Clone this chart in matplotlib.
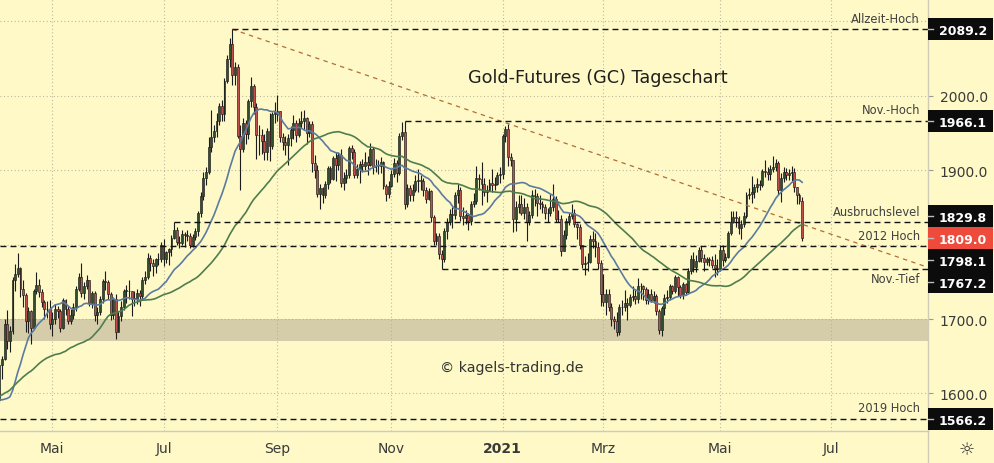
import numpy as np
import pandas as pd
import matplotlib
matplotlib.use('Agg')
import matplotlib.pyplot as plt
from matplotlib.transforms import blended_transform_factory
from matplotlib.patches import Rectangle

# Gold-Futures (GC) daily candles, 1 Apr 2020 - 16 Jun 2021
HOLIDAYS = ['2020-04-10', '2020-05-25', '2020-07-03', '2020-09-07', '2020-11-26',
            '2020-12-25', '2021-01-01', '2021-01-18', '2021-02-15', '2021-04-02',
            '2021-05-31', '2021-07-05']

# closes before the visible window, only needed to start the moving averages
warmup_closes = [1558, 1557, 1565, 1572, 1582, 1569, 1567, 1577, 1587,
                 1582, 1556, 1557, 1569, 1574, 1582, 1570, 1570, 1578, 1586, 1604, 1612, 1623, 1649, 1676,
                 1650, 1643, 1643, 1566,
                 1594, 1644, 1645, 1672, 1672, 1675, 1650, 1642, 1590, 1516, 1511, 1525, 1477, 1478, 1484,
                 1567, 1660, 1634, 1651, 1654, 1643, 1596]

closes = [
    1591, 1638, 1646, 1694, 1670, 1684, 1753, 1761, 1769, 1741, 1732, 1698, 1711, 1688, 1738, 1746, 1736, 1723, 1713, 1713, 1694,  # Apr 20
    1700, 1714, 1711, 1688, 1726, 1713, 1698, 1705, 1716, 1740, 1756, 1735, 1745, 1752, 1721, 1735, 1705, 1710, 1727, 1751,  # May
    1750, 1734, 1705, 1727, 1683, 1704, 1716, 1738, 1738, 1737, 1727, 1727, 1735, 1731, 1753, 1756, 1782, 1775, 1771, 1780, 1781, 1800,  # Jun
    1780, 1790, 1794, 1809, 1820, 1803, 1802, 1814, 1813, 1812, 1800, 1810, 1818, 1842, 1865, 1890, 1897, 1931, 1945, 1953, 1966, 1986,  # Jul
    1976, 2020, 2049, 2069, 2028, 2039, 1946, 1928, 1963, 1949, 1993, 2013, 1985, 1947, 1947, 1939, 1924, 1953, 1932, 1975, 1978,  # Aug
    1979, 1944, 1938, 1934, 1943, 1954, 1964, 1947, 1964, 1966, 1970, 1950, 1962, 1910, 1900, 1868, 1876, 1866, 1882, 1903, 1888,  # Sep
    1916, 1907, 1920, 1883, 1889, 1894, 1930, 1925, 1894, 1901, 1908, 1906, 1911, 1907, 1929, 1904, 1905, 1905, 1911, 1879, 1868, 1879,  # Oct
    1895, 1910, 1896, 1946, 1951, 1854, 1876, 1866, 1873, 1886, 1887, 1885, 1873, 1861, 1872, 1837, 1805, 1811, 1788, 1780,  # Nov
    1818, 1830, 1841, 1840, 1866, 1874, 1839, 1836, 1840, 1832, 1855, 1858, 1890, 1888, 1882, 1871, 1874, 1883, 1880, 1882, 1893, 1895,  # Dec
    1946, 1955, 1918, 1913, 1835, 1850, 1855, 1843, 1851, 1830, 1840, 1866, 1865, 1856, 1855, 1850, 1842, 1843, 1850,  # Jan 21
    1861, 1834, 1835, 1792, 1813, 1832, 1838, 1842, 1827, 1823, 1799, 1774, 1775, 1777, 1808, 1805, 1797, 1775, 1734,  # Feb
    1723, 1733, 1716, 1700, 1698, 1683, 1716, 1716, 1722, 1719, 1730, 1731, 1727, 1745, 1744, 1740, 1725, 1734, 1725, 1731, 1711, 1685, 1715,  # Mar
    1728, 1729, 1744, 1738, 1756, 1743, 1732, 1747, 1736, 1764, 1780, 1770, 1778, 1793, 1782, 1777, 1780, 1779, 1773, 1768, 1767,  # Apr
    1793, 1779, 1784, 1815, 1831, 1837, 1836, 1822, 1827, 1838, 1867, 1868, 1870, 1877, 1881, 1880, 1899, 1897, 1895, 1902,  # May
    1904, 1909, 1873, 1890, 1898, 1894, 1896, 1898, 1877, 1866, 1858, 1809,  # Jun
]

highs = [
    1611, 1642, 1650, 1700, 1712, 1690, 1756, 1774, 1789, 1770, 1752, 1735, 1716, 1712, 1740, 1763, 1754, 1740, 1726, 1724, 1725,
    1710, 1720, 1718, 1713, 1728, 1727, 1717, 1713, 1722, 1745, 1762, 1775, 1750, 1759, 1753, 1738, 1738, 1716, 1731, 1754,
    1764, 1753, 1736, 1730, 1733, 1711, 1724, 1741, 1746, 1752, 1738, 1737, 1740, 1739, 1756, 1765, 1789, 1786, 1780, 1782, 1789, 1804,
    1807, 1792, 1796, 1813, 1830, 1823, 1812, 1820, 1817, 1819, 1815, 1814, 1822, 1845, 1870, 1898, 1904, 1944, 1981, 1960, 1977, 1990,
    1994, 2024, 2055, 2078, 2089.2, 2045, 2042, 1961, 1970, 1967, 1996, 2025, 2016, 1990, 1960, 1955, 1948, 1956, 1977, 1978, 1992,
    2001, 1980, 1950, 1946, 1949, 1959, 1974, 1967, 1970, 1980, 1981, 1972, 1966, 1966, 1920, 1907, 1882, 1878, 1886, 1905, 1906,
    1919, 1925, 1924, 1928, 1898, 1901, 1933, 1934, 1929, 1908, 1912, 1915, 1924, 1919, 1937, 1931, 1915, 1913, 1917, 1912, 1882, 1886,
    1900, 1916, 1913, 1950, 1965, 1966.1, 1881, 1880, 1881, 1893, 1902, 1893, 1889, 1878, 1876, 1874, 1840, 1815, 1815, 1793,
    1822, 1836, 1848, 1850, 1871, 1881, 1877, 1850, 1846, 1843, 1858, 1869, 1906, 1895, 1911, 1889, 1880, 1888, 1902, 1891, 1898, 1904,
    1948, 1959, 1962.5, 1923, 1914, 1858, 1867, 1866, 1862, 1856, 1845, 1874, 1875, 1869, 1867, 1859, 1855, 1849, 1868,
    1881, 1865, 1846, 1840, 1819, 1836, 1843, 1855, 1848, 1829, 1828, 1800, 1785, 1789, 1813, 1818, 1815, 1803, 1779,
    1760, 1741, 1740, 1722, 1704, 1709, 1720, 1725, 1739, 1728, 1734, 1745, 1740, 1755, 1749, 1746, 1743, 1740, 1740, 1737, 1733, 1713, 1718,
    1733, 1739, 1747, 1746, 1759, 1758, 1746, 1750, 1749, 1769, 1786, 1790, 1786, 1797, 1798, 1787, 1784, 1784, 1785, 1788, 1780,
    1799, 1799, 1789, 1818, 1845, 1845, 1845, 1839, 1833, 1844, 1870, 1876, 1892, 1882, 1890, 1887, 1902, 1913, 1904, 1907,
    1919, 1915, 1912, 1896, 1904, 1903, 1902, 1905, 1903, 1878, 1869, 1864,
]

lows = [
    1581, 1587, 1620, 1645, 1660, 1656, 1680, 1737, 1756, 1730, 1716, 1683, 1681, 1667, 1686, 1733, 1729, 1716, 1700, 1702, 1686,
    1677, 1693, 1701, 1683, 1686, 1705, 1693, 1694, 1700, 1711, 1737, 1730, 1727, 1741, 1717, 1715, 1697, 1694, 1706, 1722,
    1739, 1727, 1699, 1700, 1673, 1682, 1697, 1712, 1722, 1727, 1704, 1718, 1720, 1717, 1727, 1747, 1754, 1764, 1758, 1762, 1772, 1776,
    1771, 1775, 1773, 1785, 1807, 1799, 1796, 1799, 1797, 1805, 1796, 1797, 1806, 1812, 1837, 1860, 1880, 1895, 1925, 1938, 1945, 1960,
    1966, 1966, 2017, 2038, 2015, 2014, 1943, 1874, 1925, 1935, 1942, 1985, 1975, 1915, 1920, 1922, 1914, 1913, 1912, 1929, 1963,
    1966, 1938, 1927, 1921, 1907, 1932, 1942, 1938, 1944, 1957, 1954, 1935, 1944, 1897, 1889, 1864, 1848, 1856, 1862, 1875, 1883,
    1887, 1886, 1900, 1877, 1874, 1883, 1890, 1915, 1889, 1890, 1883, 1898, 1900, 1893, 1905, 1895, 1897, 1895, 1896, 1875, 1859, 1862,
    1877, 1891, 1884, 1893, 1940, 1848, 1851, 1859, 1859, 1871, 1871, 1874, 1865, 1856, 1860, 1831, 1800, 1800, 1781, 1767.2,
    1776, 1807, 1826, 1822, 1835, 1856, 1832, 1826, 1827, 1820, 1826, 1850, 1855, 1874, 1853, 1865, 1857, 1872, 1870, 1874, 1880, 1883,
    1888, 1938, 1905, 1906, 1817, 1818, 1843, 1840, 1835, 1805, 1826, 1836, 1852, 1838, 1848, 1843, 1834, 1831, 1838,
    1845, 1830, 1830, 1785, 1791, 1807, 1826, 1834, 1823, 1807, 1794, 1769, 1759, 1765, 1775, 1795, 1783, 1767, 1717,
    1717, 1705, 1711, 1691, 1686, 1677, 1679, 1705, 1711, 1699, 1716, 1724, 1720, 1722, 1727, 1726, 1720, 1720, 1723, 1721, 1706, 1680, 1677,
    1706, 1721, 1725, 1734, 1735, 1731, 1728, 1727, 1732, 1735, 1761, 1763, 1763, 1776, 1776, 1764, 1772, 1771, 1768, 1756, 1759,
    1765, 1771, 1776, 1782, 1813, 1829, 1823, 1814, 1808, 1824, 1836, 1861, 1856, 1863, 1870, 1874, 1878, 1891, 1887, 1887,
    1898, 1899, 1867, 1857, 1884, 1887, 1887, 1885, 1871, 1855, 1854, 1805,
]

# horizontal levels
level_values = [2089.2, 1966.1, 1829.8, 1798.1, 1767.2, 1566.2]
level_names = ['Allzeit-Hoch', 'Nov.-Hoch', 'Ausbruchslevel', '2012 Hoch', 'Nov.-Tief', '2019 Hoch']
level_start = ['2020-08-07', '2020-11-09', '2020-07-08', None, '2020-11-30', None]
last_price = 1809.0

# downtrend line through the two highs
trend_dates = ['2020-08-07', '2021-01-06']
trend_prices = [2089.2, 1962.5]

zone = [1670, 1700]

month_ticks = [(2020, 5), (2020, 7), (2020, 9), (2020, 11), (2021, 1), (2021, 3), (2021, 5), (2021, 7)]
month_labels = ['Mai', 'Jul', 'Sep', 'Nov', '2021', 'Mrz', 'Mai', 'Jul']
price_ticks = [1600, 1700, 1800, 1900, 2000, 2100]

BG = '#fef9c7'
UP = '#2f4f2f'
DOWN = '#c0504d'
WICK = '#1c1c1c'
Y_MIN, Y_MAX = 1549.6, 2129.9
X_MIN, X_MAX = 1.28, 351.5

all_days = pd.bdate_range('2020-04-01', '2021-07-31', freq='C', holidays=HOLIDAYS)
n = min(len(closes), len(highs), len(lows))
x = np.arange(n)
c = np.array(closes[:n], dtype=float)
o = np.array([warmup_closes[-1]] + closes[:n - 1], dtype=float)  # open at prior close
hi = np.maximum(np.array(highs[:n], dtype=float), np.maximum(o, c))
lo = np.minimum(np.array(lows[:n], dtype=float), np.minimum(o, c))


def day_pos(d):
    return all_days.get_loc(pd.Timestamp(d))


series = pd.Series(warmup_closes + closes[:n], dtype=float)
ma20 = series.rolling(20).mean().to_numpy()[len(warmup_closes):]
ma50 = series.rolling(50).mean().to_numpy()[len(warmup_closes):]

fig = plt.figure(figsize=(9.95, 4.64), dpi=100, facecolor=BG)
ax = fig.add_axes([0, 32 / 464, 928 / 995, 432 / 464])
ax.set_facecolor(BG)
ax.set_xlim(X_MIN, X_MAX)
ax.set_ylim(Y_MIN, Y_MAX)

# zone + grid
ax.axhspan(zone[0], zone[1], color='#d5cdaa', lw=0, zorder=0.6)
tick_pos = [int(np.argmax((all_days.year == y) & (all_days.month == m))) for y, m in month_ticks]
for t in tick_pos:
    ax.axvline(t, color='#aeab98', lw=0.8, ls=(0, (0.8, 2.4)), zorder=1)
for p in price_ticks:
    ax.axhline(p, color='#aeab98', lw=0.8, ls=(0, (0.8, 2.4)), zorder=1)

# candles
ax.vlines(x, lo, hi, color=WICK, lw=0.8, zorder=3)
body_lo = np.minimum(o, c)
body_h = np.maximum(np.abs(c - o), 0.8)
ax.bar(x, body_h, bottom=body_lo, width=0.72,
       color=[UP if cc >= oo else DOWN for oo, cc in zip(o, c)],
       edgecolor=WICK, linewidth=0.45, zorder=3.1)

# moving averages
ax.plot(x, ma20, color='#5b7ba0', lw=1.2, zorder=4)
ax.plot(x, ma50, color='#4f7d4f', lw=1.2, zorder=4)

# trend line
t0, t1 = day_pos(trend_dates[0]), day_pos(trend_dates[1])
slope = (trend_prices[1] - trend_prices[0]) / (t1 - t0)
ax.plot([t0, X_MAX], [trend_prices[0], trend_prices[0] + slope * (X_MAX - t0)],
        color='#b36b36', lw=0.9, ls=(0, (3.5, 3.5)), zorder=5)

# horizontal levels with names
for v, name, start in zip(level_values, level_names, level_start):
    xs = day_pos(start) if start else X_MIN
    ax.plot([xs, X_MAX], [v, v], color='#111111', lw=1.0, ls=(0, (4.3, 2.9)), zorder=5)
    dy = -9.5 if name == 'Nov.-Tief' else 11
    ax.annotate(name, xy=(1, v), xycoords=('axes fraction', 'data'),
                xytext=(-8, dy), textcoords='offset pixels', ha='right', va='center',
                fontsize=8.3, color='#404040', zorder=6)

# right price axis (1800.0 sits fully under the value boxes, so it is left blank)
ax.yaxis.tick_right()
ax.set_yticks(price_ticks)
ax.set_yticklabels(['' if p == 1800 else f'{p:.1f}' for p in price_ticks])
ax.tick_params(axis='y', length=3.5, width=0.8, color='#9a9a9a', pad=5,
               labelsize=10, labelcolor='#3a3a3a')
ax.set_xticks(tick_pos)
ax.set_xticklabels(month_labels)
ax.tick_params(axis='x', length=0, pad=7, labelsize=10, labelcolor='#3a3a3a')
for lab in ax.get_xticklabels():
    if lab.get_text() == '2021':
        lab.set_fontweight('bold')
for side in ['top', 'left']:
    ax.spines[side].set_visible(False)
for side in ['right', 'bottom']:
    ax.spines[side].set_color('#cfcbb8')
    ax.spines[side].set_linewidth(1.0)
fig.add_artist(plt.Line2D([928 / 995, 928 / 995], [0, 32 / 464], color='#cfcbb8', lw=1.0))

# value boxes on the price axis, pushed apart around the last price
ppu = 432 / (Y_MAX - Y_MIN)
box_h = 22 / ppu
box_pos = {last_price: last_price}
y_run = last_price
for v in sorted([v for v in level_values if v > last_price]):
    y_run = max(v, y_run + box_h)
    box_pos[v] = y_run
y_run = last_price
for v in sorted([v for v in level_values if v < last_price], reverse=True):
    y_run = min(v, y_run - box_h)
    box_pos[v] = y_run

trans = blended_transform_factory(ax.transAxes, ax.transData)
for v, yc in box_pos.items():
    col = '#ef4b3c' if v == last_price else '#0c0c0c'
    ax.add_patch(Rectangle((1.0, yc - box_h / 2), 65 / 928, box_h, transform=trans,
                           facecolor=col, edgecolor='none', clip_on=False, zorder=6))
    ax.plot([1.0, 1.0 + 5 / 928], [yc, yc], transform=trans, color='#bdbdbd',
            lw=1.0, clip_on=False, zorder=6.5)
    ax.text(1.0 + 11 / 928, yc, f'{v:.1f}', transform=trans, color='white', fontsize=9,
            fontweight='bold', ha='left', va='center_baseline', clip_on=False, zorder=7)

# texts
ax.text(598 / 928, 1 - 78 / 432, 'Gold-Futures (GC) Tageschart', transform=ax.transAxes,
        ha='center', va='center', fontsize=12.7, color='#1f1f1f', zorder=8)
ax.text(511.5 / 928, 1 - 368 / 432, '\u00a9 kagels-trading.de', transform=ax.transAxes,
        ha='center', va='center', fontsize=10.2, color='#333333', zorder=8)
fig.text(967 / 995, 1 - 450 / 464, '\u263c', ha='center', va='center', fontsize=13, color='#333333')

fig.savefig('out.png', dpi=100, facecolor=BG)
